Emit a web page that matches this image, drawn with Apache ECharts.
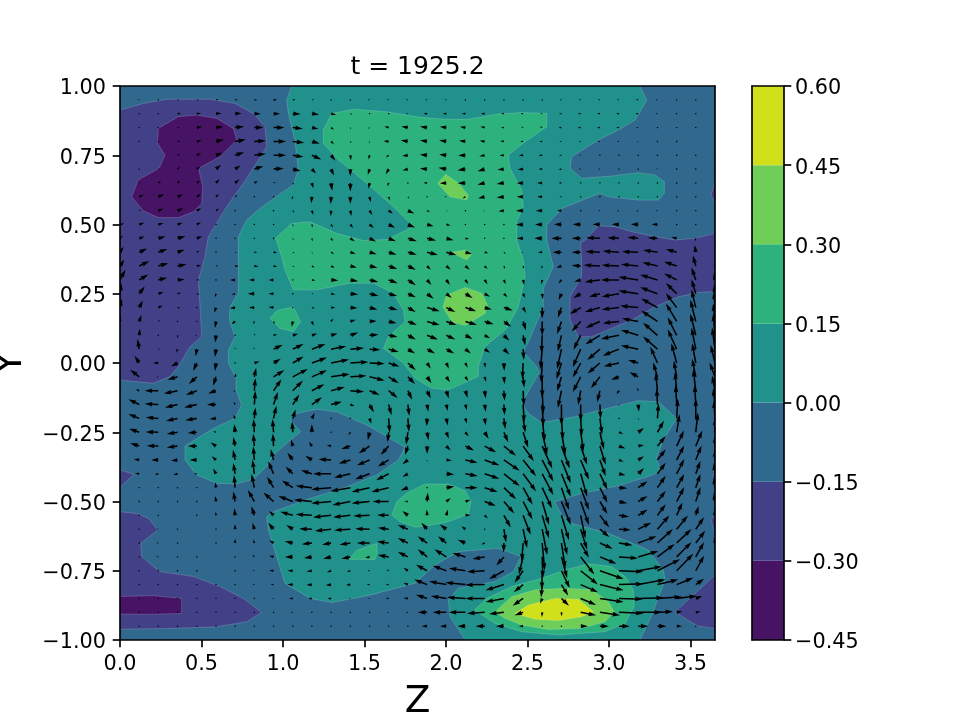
<!DOCTYPE html>
<html>
<head>
<meta charset="utf-8">
<title>t = 1925.2</title>
<style>html,body{margin:0;padding:0;background:#fff}#chart{width:960px;height:720px}</style>
<script src="https://cdn.jsdelivr.net/npm/echarts@6/dist/echarts.min.js"></script>
</head>
<body>
<div id="chart"></div>
<script>
// Snapshot of a 2D flow: filled contours of a scalar with the velocity field on top.
const titleText = 't = 1925.2';
const xTicks = [0, 0.5, 1, 1.5, 2, 2.5, 3, 3.5];
const yTicks = [-1, -0.75, -0.5, -0.25, 0, 0.25, 0.5, 0.75, 1];
const levels = [-0.45, -0.30, -0.15, 0, 0.15, 0.30, 0.45, 0.60];
const bandColors = ['#471365', '#424086', '#31688e', '#21918c', '#2db27d', '#6ece58', '#d0e11c'];

// Contour regions as [Z, Y] outlines, one array per closed region.
const background = [[0,1],[3.65,1],[3.65,-1],[0,-1]];
const tealMain = [[1.053,1],[3.19,1],[3.231,.949],[3.16,.877],[3.057,.841],[2.935,.805],[2.771,.745],[2.761,.703],[2.832,.667],[3.016,.675],[3.18,.687],[3.282,.679],[3.339,.655],[3.339,.613],[3.303,.588],[3.18,.588],[2.996,.6],[2.945,.613],[2.71,.558],[2.618,.498],[2.618,.444],[2.658,.348],[2.597,.27],[2.597,.203],[2.515,.089],[2.474,.041],[2.556,-.013],[2.571,-.035],[2.464,-.146],[2.505,-.182],[2.587,-.215],[2.791,-.194],[2.935,-.172],[3.18,-.136],[3.303,-.14],[3.415,-.2],[3.344,-.266],[3.292,-.338],[3.313,-.392],[3.241,-.41],[3.037,-.446],[2.832,-.471],[2.665,-.501],[2.71,-.549],[2.771,-.579],[2.996,-.615],[3.241,-.675],[3.333,-.747],[3.344,-.783],[3.258,-.916],[3.19,-1],[2.117,-1],[2.025,-.916],[2.014,-.856],[2.076,-.813],[2.301,-.789],[2.413,-.753],[2.46,-.699],[2.321,-.669],[2.076,-.681],[1.933,-.729],[1.81,-.795],[1.534,-.838],[1.299,-.865],[1.166,-.85],[1.012,-.795],[.961,-.699],[.91,-.603],[.9,-.555],[.941,-.537],[1.166,-.489],[1.37,-.452],[1.575,-.404],[1.708,-.35],[1.748,-.304],[1.534,-.23],[1.329,-.176],[1.207,-.167],[1.084,-.182],[1.043,-.206],[1.108,-.248],[1.022,-.29],[.941,-.332],[.9,-.374],[.818,-.42],[.706,-.437],[.593,-.434],[.47,-.404],[.399,-.35],[.399,-.3],[.573,-.236],[.706,-.2],[.746,-.152],[.712,-.097],[.712,-.055],[.665,0],[.665,.047],[.706,.095],[.671,.155],[.675,.203],[.726,.252],[.726,.456],[.777,.516],[.859,.558],[.971,.606],[1.063,.643],[1.094,.697],[1.074,.799],[1.053,.853],[1.033,.901],[1.022,.949]];
const greenUpper = [[1.247,.841],[1.299,.901],[1.431,.916],[1.636,.907],[1.84,.887],[1.994,.88],[2.137,.88],[2.321,.899],[2.464,.904],[2.618,.901],[2.618,.853],[2.485,.799],[2.382,.751],[2.393,.703],[2.464,.625],[2.474,.564],[2.434,.51],[2.434,.444],[2.474,.372],[2.485,.312],[2.444,.203],[2.372,.125],[2.239,.059],[2.198,-.013],[2.198,-.049],[2.014,-.097],[1.912,-.091],[1.81,-.055],[1.738,0],[1.616,.053],[1.646,.095],[1.748,.149],[1.738,.191],[1.677,.252],[1.554,.288],[1.411,.288],[1.207,.264],[1.063,.264],[1.012,.336],[.992,.384],[.955,.45],[1.053,.504],[1.166,.51],[1.329,.468],[1.493,.442],[1.636,.446],[1.8,.492],[1.677,.564],[1.513,.649],[1.329,.739],[1.247,.793]];
const greenSmall = [[.92,.161],[.961,.189],[1.063,.203],[1.108,.149],[1.063,.113],[.982,.125]];
const greenCentral = [[1.667,-.549],[1.697,-.501],[1.759,-.47],[1.83,-.449],[1.871,-.437],[2.014,-.437],[2.117,-.461],[2.153,-.501],[2.137,-.545],[2.014,-.573],[1.892,-.587],[1.81,-.593],[1.718,-.573]];
const greenSliver = [[1.401,-.709],[1.452,-.677],[1.575,-.651],[1.579,-.687],[1.564,-.709]];
const greenHump = [[2.174,-.892],[2.249,-.85],[2.403,-.807],[2.587,-.777],[2.73,-.747],[2.873,-.725],[3.016,-.735],[3.098,-.771],[3.149,-.819],[3.153,-.88],[3.098,-.94],[2.975,-.97],[2.689,-.982],[2.464,-.97],[2.301,-.94]];
const limeHump = [[2.301,-.898],[2.403,-.844],[2.546,-.819],[2.73,-.813],[2.894,-.819],[2.996,-.861],[3.031,-.898],[2.975,-.934],[2.832,-.958],[2.628,-.962],[2.464,-.946],[2.362,-.922]];
const yellowCore = [[2.423,-.904],[2.505,-.874],[2.669,-.85],[2.812,-.853],[2.904,-.898],[2.832,-.916],[2.689,-.93],[2.546,-.925]];
const limeTop = [[1.949,.649],[1.998,.681],[2.076,.649],[2.137,.606],[2.127,.588],[2.025,.6],[1.994,.619]];
const limeMid = [[2.008,.398],[2.127,.408],[2.157,.393],[2.127,.372],[2.065,.39]];
const limeLow = [[1.98,.203],[2.004,.245],[2.117,.273],[2.219,.252],[2.254,.209],[2.239,.179],[2.117,.135],[2.035,.149]];
const indigoLeft = [[0,.913],[.143,.937],[.286,.952],[.552,.952],[.706,.937],[.818,.901],[.89,.853],[.9,.781],[.869,.751],[.757,.649],[.654,.564],[.542,.456],[.521,.384],[.481,.3],[.491,.203],[.501,.095],[.429,.059],[.358,-.013],[.307,-.049],[.204,-.073],[.092,-.067],[0,-.061]];
const violetTop = [[.235,.847],[.358,.889],[.47,.895],[.593,.883],[.695,.847],[.716,.805],[.613,.745],[.481,.703],[.507,.637],[.501,.576],[.45,.546],[.358,.525],[.235,.525],[.143,.55],[.072,.6],[.112,.661],[.241,.703],[.276,.751],[.231,.793]];
const indigoRight = [[2.853,.444],[2.935,.495],[3.037,.492],[3.139,.474],[3.282,.456],[3.405,.444],[3.528,.45],[3.65,.468],[3.65,.258],[3.548,.255],[3.425,.239],[3.282,.203],[3.139,.155],[3.016,.125],[2.894,.095],[2.812,.095],[2.761,.155],[2.761,.239],[2.832,.312],[2.832,.372],[2.826,.432]];
const indigoNotch = [[0,-.386],[.086,-.402],[0,-.449]];
const indigoLower = [[0,-.537],[.102,-.543],[.174,-.561],[.231,-.603],[.127,-.651],[.133,-.699],[.241,-.753],[.45,-.771],[.613,-.807],[.757,-.85],[.869,-.901],[.777,-.934],[.593,-.952],[.348,-.958],[0,-.961]];
const violetLower = [[0,-.843],[.204,-.84],[.378,-.85],[.378,-.904],[.184,-.907],[0,-.906]];
const indigoCorner = [[3.405,-.898],[3.507,-.844],[3.65,-.765],[3.65,-.958],[3.548,-.95],[3.466,-.922]];
const indigoEdgeA = [[3.65,.655],[3.626,.606],[3.65,.578]];
const indigoEdgeB = [[3.65,-.392],[3.634,-.41],[3.65,-.42]];
const indigoEdgeC = [[3.65,-.55],[3.626,-.567],[3.65,-.615]];

// Velocity sample positions.
const zGrid = [0,.118,.235,.353,.471,.589,.706,.824,.942,1.06,1.177,1.295,1.413,1.531,1.648,1.766,1.884,2.002,2.119,2.237,2.355,2.473,2.59,2.708,2.826,2.944,3.061,3.179,3.297,3.415,3.532,3.65];
const yGrid = [.95,.9,.85,.8,.75,.7,.65,.6,.55,.5,.45,.4,.35,.3,.25,.2,.15,.1,.05,0,-.05,-.1,-.15,-.2,-.25,-.3,-.35,-.4,-.45,-.5,-.55,-.6,-.65,-.7,-.75,-.8,-.85,-.9,-.95];

// Z velocity, one row per yGrid entry.
const velocityU = [
[0,-5,-3,5,6,7,8,9,10,8,6,-4,-4,-5,-5,-5,-5,-5,-3,-4,-4,-4,-3,-5,-6,-6,-6,-7,-6,-4,-2,0],
[0,-1,-2,10,12,15,18,18,18,22,20,14,6,2,2,-5,-10,-10,-10,-10,-8,-7,-6,-7,-8,-8,-8,-8,-6,-3,-1,0],
[0,-1,-1,6,15,20,25,25,30,28,18,8,2,-4,-12,-18,-20,-18,-15,-12,-8,-6,-7,-8,-8,-8,-8,-6,-4,-2,-1,0],
[0,-1,-1,8,14,22,30,32,35,32,22,8,3,-2,-14,-20,-20,-20,-18,-14,-10,-8,-8,-6,-6,-6,-5,-4,-2,-1,0,0],
[0,0,0,7,12,18,25,32,35,30,26,12,2,-3,-8,-16,-20,-20,-20,-15,-12,-12,-10,-7,-5,-4,-3,-2,-1,0,1,2],
[0,3,4,7,10,14,15,25,28,22,12,8,0,-5,-8,-15,-20,-22,-22,-20,-18,-15,-10,-8,-6,-5,-4,-4,-4,-3,-3,0],
[0,4,8,8,9,10,12,10,6,4,4,3,0,-3,-3,-2,-10,-18,-22,-20,-20,-18,-14,-8,-4,-3,-3,-3,-2,-1,0,0],
[0,12,16,15,12,8,6,2,0,-3,-2,-1,0,3,3,4,-3,-6,-8,-18,-20,-18,-14,-6,-3,-1,-1,0,1,0,0,0],
[0,6,14,16,12,8,3,0,3,4,4,-1,3,8,12,18,8,4,2,-4,-15,-20,-18,-12,-4,-5,-6,-6,-5,-3,-1,0],
[12,14,15,14,12,3,2,3,1,1,2,5,8,12,18,20,18,12,2,3,-1,-20,-20,-20,-22,-20,-20,-20,-16,-4,-2,0],
[8,15,20,22,15,3,3,3,3,2,2,5,12,18,20,25,25,20,10,3,-2,-18,-22,-28,-25,-38,-32,-30,-27,-15,-2,0],
[10,22,25,20,8,4,5,8,10,5,2,8,15,20,22,25,30,28,18,10,5,-5,-12,-25,-25,-40,-45,-45,-40,-30,-3,0],
[12,28,28,25,12,6,10,12,10,5,8,10,18,22,24,22,10,12,12,8,3,2,-2,-14,-25,-45,-48,-48,-42,-35,-8,-2],
[15,25,25,20,8,3,-14,-15,-14,3,10,20,22,24,25,22,12,10,8,8,5,3,-2,-8,-18,-42,-50,-55,-48,-35,-12,-3],
[4,15,15,10,8,-3,-10,-18,-14,-3,5,12,22,25,24,22,18,15,20,15,10,6,2,-8,-20,-30,-48,-55,-48,-30,-12,-3],
[5,10,12,8,3,-5,-15,-15,-14,-1,8,12,20,22,25,22,35,25,30,20,25,8,0,-10,-30,-42,-48,-50,-45,-30,-12,-3],
[0,6,5,3,0,-3,-10,-3,3,-3,5,6,15,20,22,25,35,28,32,25,20,8,0,-12,-25,-40,-45,-45,-45,-30,-15,-5],
[0,2,3,1,-5,-2,3,3,10,15,15,18,22,25,25,22,30,25,20,15,15,6,-2,-10,-20,-40,-50,-48,-40,-25,-15,-5],
[0,-5,5,-3,-3,-3,0,-2,25,30,38,42,38,30,28,20,22,22,15,15,15,2,-5,-12,-22,-35,-45,-48,-40,-25,-12,-8],
[-3,-13,-15,-18,-10,-3,0,15,20,30,42,50,50,42,30,22,10,7,6,2,1,-2,-3,-14,-22,-34,-42,-28,-20,-15,-10,-12],
[-5,-25,-5,-28,-22,-8,3,5,30,42,42,52,45,42,28,20,12,10,8,4,2,3,0,-12,-22,-25,-22,-24,-12,-8,-10,-15],
[-3,-10,-38,-38,-30,-22,-5,3,22,28,35,38,38,28,25,12,10,7,6,3,2,2,3,-10,-7,-8,-7,-3,-5,-5,-7,-8],
[-8,-30,-38,-35,-35,-25,-4,3,12,18,28,30,12,12,8,4,3,4,4,3,2,3,3,0,0,2,0,2,-2,-3,-3,-5],
[-6,-30,-35,-32,-32,-18,-5,3,8,8,8,3,2,5,3,3,-1,4,4,3,4,6,7,4,3,6,1,1,3,3,0,-3],
[-5,-28,-35,-30,-25,-8,-2,-2,-3,-2,0,-3,-5,-5,-3,-5,4,7,9,11,12,14,14,11,8,11,12,16,18,8,6,0],
[-4,-25,-32,-30,-25,-15,-5,-3,-2,-5,-8,-12,-25,-30,-22,-8,0,12,24,32,34,30,28,23,18,16,18,16,23,20,18,0],
[-3,-15,-20,-18,-20,-12,-6,-3,-8,-15,-18,-35,-32,-35,-30,-15,0,15,34,41,44,36,31,26,23,16,13,16,23,21,16,0],
[-3,-12,-10,-12,-8,-8,-5,-5,-15,-20,-30,-50,-45,-40,-35,-15,0,22,34,41,44,36,31,26,18,21,18,16,23,21,13,-3],
[0,-4,-3,-3,-3,-2,-3,-8,-18,-30,-45,-55,-55,-50,-48,-20,2,22,34,36,34,26,27,21,23,21,23,26,23,21,13,-3],
[-5,-2,-1,-1,-1,-2,-5,-18,-28,-40,-50,-55,-50,-50,-45,-10,2,12,14,31,29,26,19,26,23,21,23,26,23,21,13,-3],
[0,-3,-1,0,0,-1,-2,-8,-12,-35,-45,-50,-48,-45,-32,-15,-1,4,14,9,19,21,19,21,13,26,28,26,23,16,8,0],
[0,-3,-5,-2,0,0,0,-5,-15,-18,-35,-45,-45,-40,-30,-28,-16,-18,-11,0,6,11,14,16,18,26,33,36,33,31,23,-3],
[-3,-2,-6,-1,0,0,0,-3,-12,-22,-28,-25,-30,-35,-32,-28,-26,-23,-21,-9,-1,-4,7,11,23,36,38,51,43,41,26,-3],
[-2,-1,-6,-3,-1,0,0,-5,-12,-22,-22,-22,-25,-12,-30,-28,-26,-33,-36,-34,-21,-12,2,16,38,46,53,56,48,41,23,-1],
[0,-1,-2,-1,-1,0,-1,-5,-12,-15,-15,-12,-10,-6,-6,-12,-31,-38,-46,-49,-41,-24,-1,23,48,66,68,66,63,46,23,0],
[0,-2,-2,-2,-2,-2,-1,-5,-8,-15,-15,-15,-12,-8,-8,-12,-36,-48,-56,-54,-51,-26,-3,19,48,66,68,76,58,46,23,0],
[0,-1,-1,-1,-1,-1,-1,-3,-5,-10,-10,-10,-5,-5,-8,-12,-31,-43,-51,-54,-51,-29,-6,21,43,66,66,71,68,56,18,0],
[0,-1,-1,-1,-1,-1,-1,-1,-3,-6,-4,-4,-3,-3,-5,-6,-26,-38,-46,-49,-41,-24,-1,1,43,56,68,66,43,16,13,0],
[0,-1,-1,-1,-1,-1,-1,-1,-1,-1,-2,-2,-2,-2,-3,-3,-15,-18,-22,-25,-22,-12,0,3,20,25,30,28,25,15,2,0]
];

// Y velocity, same layout as velocityU.
const velocityV = [
[0,0,0,0,0,0,0,0,0,0,0,0,0,0,0,0,0,0,0,0,0,0,0,0,0,0,0,0,0,0,0,0],
[0,0,0,0,1,1,1,0,0,-1,-2,-3,-3,0,0,0,0,0,0,0,0,1,0,0,0,0,0,0,0,0,0,0],
[0,0,0,1,2,3,3,0,0,-3,-4,-6,-5,-3,3,3,3,2,2,2,0,2,2,0,0,0,0,0,0,0,0,0],
[0,0,0,1,3,5,5,2,0,-4,-6,-8,-5,-5,1,3,3,3,2,2,1,0,0,-1,0,-1,-2,-2,-2,-1,0,0],
[0,0,0,4,6,7,8,4,0,-5,-12,-15,-14,-12,-6,-2,2,2,-1,-3,-1,-1,0,-1,-1,-1,-1,-1,-1,-1,-1,1],
[0,2,3,6,7,12,10,8,2,-5,-12,-18,-20,-16,-14,-3,2,4,-3,-6,-2,-1,0,-1,0,0,0,1,2,3,3,2],
[0,2,5,6,7,10,10,5,2,-5,-15,-22,-24,-16,-10,-2,0,-1,-1,-5,-3,-1,0,0,0,0,0,1,1,2,2,1],
[0,6,7,7,8,8,6,2,1,-8,-18,-20,-20,-15,-10,-5,0,0,-5,-4,-2,0,0,0,0,-2,-1,-2,1,1,1,0],
[0,3,6,7,7,6,2,0,2,-6,-12,-15,-15,-12,-8,-8,-4,-2,-2,-2,-2,0,0,0,-1,-1,-2,-2,-1,0,0,0],
[3,5,4,5,6,2,1,-1,-1,-6,-8,-8,-10,-10,-9,-8,-5,-3,-1,-2,0,-1,0,1,1,1,1,1,1,0,0,0],
[8,5,5,6,6,1,1,0,-2,-6,-8,-8,-8,-9,-8,-8,-6,-5,-2,-1,0,0,0,0,0,2,2,3,2,3,-8,0],
[15,10,9,7,3,1,0,-1,-2,-3,-4,-5,-5,-6,-7,-7,-8,-8,-5,-3,-5,0,0,0,0,2,3,2,6,8,20,2],
[18,14,8,5,2,1,0,-1,-1,-3,-4,-5,-4,-5,-8,-10,-10,-10,-10,-8,-8,-8,-8,-5,2,3,3,5,10,12,30,10],
[28,15,6,1,0,-3,0,0,0,0,-2,-2,-4,-6,-9,-15,-14,-14,-12,-12,-12,-14,-12,-10,-5,-6,0,8,14,18,35,20],
[30,20,5,3,-2,-10,-2,0,0,0,0,-2,-2,-6,-6,-10,-14,-12,-12,-8,-10,-12,-15,-18,-12,-8,-8,8,18,30,40,25],
[25,20,6,-1,-3,-14,-2,0,2,0,-2,0,-1,-5,-7,-12,-10,-12,-10,-5,-8,-15,-30,-28,-18,-12,-5,5,25,40,50,45],
[15,18,4,-2,-3,-18,-8,-8,-8,-15,-12,8,5,1,-5,-10,-10,-10,-10,-8,-15,-25,-40,-35,-28,-18,-5,8,30,50,60,50],
[0,18,1,-8,0,-20,-3,5,3,4,5,5,8,2,-5,-12,-12,-12,-10,-8,-15,-28,-50,-45,-40,-25,-10,15,35,50,60,60],
[5,28,0,-10,-20,-22,5,5,12,14,14,8,3,-2,-8,-12,-12,-12,-12,-10,-15,-30,-55,-55,-50,-30,-18,10,35,55,60,60],
[2,20,0,-10,-22,-22,4,4,12,18,15,10,3,-2,-10,-20,-16,-16,-13,-13,-22,-45,-55,-45,-40,-29,-9,8,45,55,55,50],
[8,20,-1,-8,-20,-25,10,25,18,22,18,8,3,-10,-18,-20,-18,-15,-12,-14,-20,-30,-58,-40,-42,-32,-8,13,40,45,50,40],
[0,3,0,-8,-12,-8,-3,35,32,28,18,10,-3,-12,-20,-25,-22,-22,-20,-22,-28,-42,-65,-48,-40,-32,-10,8,50,52,60,42],
[5,15,2,-8,-8,0,8,38,35,28,20,8,-5,-22,-30,-32,-20,-18,-16,-20,-30,-50,-62,-58,-48,-40,-5,-20,45,55,55,45],
[3,12,3,-7,-5,-2,10,30,35,25,15,3,-3,-15,-40,-38,-22,-20,-15,-20,-30,-40,-65,-60,-50,-45,-3,-5,42,55,55,50],
[2,10,1,-5,-2,3,22,37,37,30,22,3,-8,-22,-28,-35,-22,-18,-12,-18,-28,-43,-63,-63,-53,-48,-4,12,32,50,55,40],
[1,8,1,-4,0,10,25,35,35,18,12,3,-8,-20,-25,-25,-22,-12,-12,-17,-27,-42,-62,-62,-52,-52,-7,3,28,43,43,30],
[0,2,0,-2,0,10,28,38,30,20,12,2,-10,-15,-18,-12,-5,-2,-8,-15,-30,-45,-60,-65,-55,-45,-5,10,30,40,40,30],
[0,1,-2,-3,0,15,30,40,35,20,10,0,-10,-15,-18,-8,0,-2,-6,-14,-34,-49,-59,-64,-64,-44,-4,16,31,41,36,31],
[0,0,0,-1,0,15,35,38,30,20,5,-5,-10,-12,-12,-8,-1,3,0,-12,-32,-47,-57,-62,-62,-42,-2,18,33,38,38,30],
[-3,0,0,0,1,15,28,32,25,15,5,-5,-10,-5,0,0,25,10,5,-12,-33,-50,-65,-65,-65,-35,-5,15,30,40,40,25],
[0,0,0,0,2,10,20,25,12,10,3,-5,-5,-2,1,12,16,16,1,-9,-34,-54,-64,-69,-64,-34,-4,16,31,36,26,20],
[3,0,1,0,0,4,14,18,18,12,1,-5,-3,1,4,12,18,13,8,-3,-37,-52,-72,-72,-57,-22,-2,18,38,38,33,8],
[8,3,1,0,0,4,12,10,8,5,-3,-5,-5,0,4,14,19,19,9,-4,-26,-51,-76,-71,-41,-16,-6,19,39,39,34,15],
[8,0,1,0,0,0,3,6,3,0,-3,-5,-5,-3,5,14,21,21,11,-6,-24,-49,-59,-59,-49,-19,-4,16,36,41,41,8],
[0,0,0,0,0,0,2,2,1,0,-2,-4,-3,0,3,8,17,14,7,-3,-23,-33,-53,-48,-38,-23,-3,12,32,47,42,5],
[0,0,0,0,0,0,0,1,0,0,-1,-2,-1,0,1,5,14,9,6,-1,-16,-21,-36,-31,-21,-16,2,14,14,19,16,0],
[0,0,0,0,0,0,0,0,0,0,-1,-1,0,0,0,1,10,7,3,0,-10,-20,-15,-20,-18,-10,-2,2,5,7,7,0],
[0,0,0,0,0,0,0,0,0,0,0,0,0,0,0,0,0,0,0,-3,-5,-8,-13,-11,-8,-8,-3,0,2,2,2,0],
[0,0,0,0,0,0,0,0,0,0,0,0,0,0,0,0,0,0,0,0,0,0,-2,-1,0,0,0,0,0,0,0,0]
];

// Painter's order: each region is listed after the region that encloses it.
const regions = [
  {pts: background, band: 2},
  {pts: tealMain, band: 3},
  {pts: greenUpper, band: 4}, {pts: greenSmall, band: 4}, {pts: greenCentral, band: 4},
  {pts: greenSliver, band: 4}, {pts: greenHump, band: 4},
  {pts: limeHump, band: 5}, {pts: limeTop, band: 5}, {pts: limeMid, band: 5}, {pts: limeLow, band: 5},
  {pts: yellowCore, band: 6},
  {pts: indigoLeft, band: 1}, {pts: indigoRight, band: 1}, {pts: indigoNotch, band: 1},
  {pts: indigoLower, band: 1}, {pts: indigoCorner, band: 1},
  {pts: indigoEdgeA, band: 1}, {pts: indigoEdgeB, band: 1}, {pts: indigoEdgeC, band: 1},
  {pts: violetTop, band: 0}, {pts: violetLower, band: 0}
];

const FONT = '"DejaVu Sans", sans-serif';
const INK = '#000';
const LINE = 1.67;
const minusFmt = d => v => v.toFixed(d).replace('-', '\u2212');

// Quiver: length in pixels per velocity unit, shaft width in pixels.
const QUIVER_SCALE = 0.36;
const SHAFT = 1.55;

// Arrow outline along +x from the tail, with the short-arrow shrink used by quiver plots.
function arrowOutline(len) {
  const w = SHAFT, hl = 5 * w, ha = 4.5 * w, hw = 3 * w;
  if (len < w) {
    const r = w / 2;
    return [[r, 0], [r / 2, r * .87], [-r / 2, r * .87], [-r, 0], [-r / 2, -r * .87], [r / 2, -r * .87]];
  }
  const f = len < hl ? len / hl : 1;
  const L = f < 1 ? hl : len;
  return [[0, w / 2], [L - ha, w / 2], [L - hl, hw / 2], [L, 0], [L - hl, -hw / 2], [L - ha, -w / 2], [0, -w / 2]]
    .map(p => [p[0] * f, p[1] * f]);
}

const arrows = [];
yGrid.forEach((y, j) => zGrid.forEach((z, k) => arrows.push([z, y, velocityU[j][k], velocityV[j][k]])));

const chart = echarts.init(document.getElementById('chart'), null, {renderer: 'canvas'});

const frameAxis = {
  axisLine: {show: true, onZero: false, lineStyle: {color: INK, width: LINE}},
  axisTick: {show: false}, axisLabel: {show: false}, splitLine: {show: false}, z: 10
};
const tickStyle = {show: true, length: 7.3, lineStyle: {color: INK, width: LINE}};
// Vertical axis labels sit slightly below their tick.
const yLabelBase = {show: true, formatter: minusFmt(2), verticalAlign: 'top', lineHeight: 6, fontFamily: FONT, fontSize: 20.8, color: INK};

chart.setOption({
  animation: false,
  backgroundColor: '#fff',
  title: {
    text: titleText, left: 412.5, top: 50, textAlign: 'center',
    textStyle: {fontFamily: FONT, fontSize: 25, fontWeight: 'normal', color: INK}
  },
  grid: [
    {left: 120, top: 86, width: 595, height: 554, outerBoundsMode: 'none'},
    {left: 752, top: 86, width: 32, height: 554, outerBoundsMode: 'none'}
  ],
  xAxis: [
    {...frameAxis, gridIndex: 0, type: 'value', position: 'bottom', min: 0, max: 3.65,
      axisTick: {...tickStyle, customValues: xTicks},
      axisLabel: {show: true, customValues: xTicks, formatter: minusFmt(1), margin: 14, fontFamily: FONT, fontSize: 20.8, color: INK},
      name: 'Z', nameLocation: 'middle', nameGap: 43, nameMoveOverlap: false, nameTextStyle: {fontFamily: FONT, fontSize: 37.5, color: INK}},
    {...frameAxis, gridIndex: 0, type: 'value', position: 'top', min: 0, max: 3.65},
    {...frameAxis, gridIndex: 1, type: 'value', position: 'bottom', min: 0, max: 1},
    {...frameAxis, gridIndex: 1, type: 'value', position: 'top', min: 0, max: 1}
  ],
  yAxis: [
    {...frameAxis, gridIndex: 0, type: 'value', position: 'left', min: -1, max: 1,
      axisTick: {...tickStyle, customValues: yTicks},
      axisLabel: {...yLabelBase, customValues: yTicks, margin: 14},
      name: 'Y', nameLocation: 'middle', nameGap: 90, nameMoveOverlap: false, nameTextStyle: {fontFamily: FONT, fontSize: 37.5, color: INK}},
    {...frameAxis, gridIndex: 0, type: 'value', position: 'right', min: -1, max: 1},
    {...frameAxis, gridIndex: 1, type: 'value', position: 'right', min: -0.45, max: 0.6,
      axisTick: {...tickStyle, customValues: levels},
      axisLabel: {...yLabelBase, customValues: levels, margin: 11}},
    {...frameAxis, gridIndex: 1, type: 'value', position: 'left', min: -0.45, max: 0.6}
  ],
  series: [
    {
      type: 'custom', xAxisIndex: 0, yAxisIndex: 0, silent: true, clip: true, z: 2,
      data: regions.map((r, i) => [i]),
      renderItem: (params, api) => {
        const r = regions[params.dataIndex];
        return {
          type: 'polygon',
          shape: {points: r.pts.map(p => api.coord(p))},
          style: {fill: bandColors[r.band], stroke: r === regions[0] ? null : 'rgba(255,255,255,0.28)', lineWidth: 0.6}
        };
      }
    },
    {
      type: 'custom', xAxisIndex: 0, yAxisIndex: 0, silent: true, clip: true, z: 3,
      data: arrows,
      renderItem: (params, api) => {
        const a = arrows[params.dataIndex];
        const speed = Math.hypot(a[2], a[3]);
        if (speed === 0) return null;
        const [px, py] = api.coord([a[0], a[1]]);
        const c = a[2] / speed, s = -a[3] / speed;
        const pts = arrowOutline(speed * QUIVER_SCALE).map(p => [px + p[0] * c - p[1] * s, py + p[0] * s + p[1] * c]);
        return {type: 'polygon', shape: {points: pts}, style: {fill: '#000'}};
      }
    },
    {
      type: 'custom', xAxisIndex: 2, yAxisIndex: 2, silent: true, z: 2,
      data: bandColors.map((c, i) => [i]),
      renderItem: (params, api) => {
        const i = params.dataIndex;
        const a = api.coord([0, levels[i + 1]]);
        const b = api.coord([1, levels[i]]);
        return {type: 'rect', shape: {x: a[0], y: a[1], width: b[0] - a[0], height: b[1] - a[1]}, style: {fill: bandColors[i]}};
      }
    }
  ]
});
</script>
</body>
</html>
